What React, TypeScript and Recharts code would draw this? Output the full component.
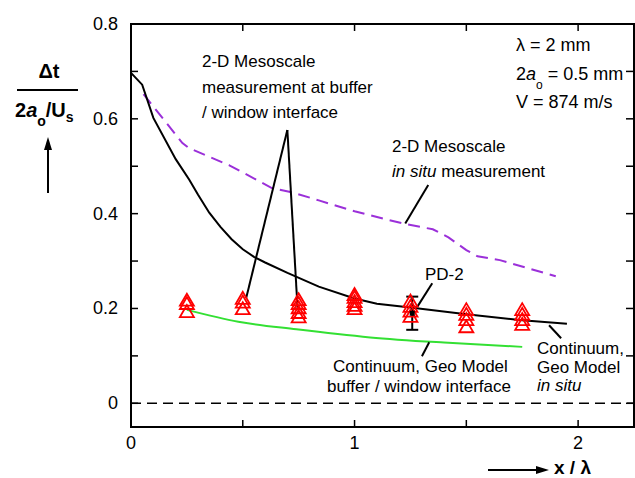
import React from 'react';
import { ComposedChart, Line, Scatter, XAxis, YAxis, ReferenceLine, ReferenceArea, ErrorBar } from 'recharts';

const FONT = 'Liberation Sans, Arial, Helvetica, sans-serif';

const xTicks = [0, 0.5, 1, 1.5, 2];
const xTickLabels = ['0', '', '1', '', '2'];
const yTicks = [0, 0.1, 0.2, 0.3, 0.4, 0.5, 0.6, 0.7, 0.8];
const yTickLabels = ['0', '', '0.2', '', '0.4', '', '0.6', '', '0.8'];
const xMax = 2.25;
const yMin = -0.05;
const yMax = 0.8;

// Continuum, Geo Model in situ (black)
const continuumInSitu = [
  [0, 0.697], [0.05, 0.672], [0.1, 0.602], [0.2, 0.515], [0.26, 0.472], [0.3, 0.44],
  [0.35, 0.402], [0.4, 0.372], [0.45, 0.346], [0.5, 0.325], [0.55, 0.309], [0.6, 0.297],
  [0.7, 0.275], [0.84, 0.246], [1.0, 0.221], [1.1, 0.21], [1.25, 0.202], [1.5, 0.188],
  [1.75, 0.175], [1.95, 0.168],
];
// 2-D Mesoscale in situ measurement (purple dashed)
const mesoInSitu = [
  [0.056, 0.652], [0.23, 0.549], [0.26, 0.538], [0.44, 0.502], [0.63, 0.454], [0.72, 0.445],
  [0.84, 0.428], [1.0, 0.405], [1.14, 0.388], [1.23, 0.378], [1.35, 0.367], [1.42, 0.35],
  [1.5, 0.323], [1.55, 0.31], [1.65, 0.302], [1.9, 0.268],
];
// Continuum, Geo Model buffer / window interface (green)
const continuumBuffer = [
  [0.25, 0.197], [0.48, 0.172], [0.74, 0.156], [1.07, 0.139], [1.4, 0.128], [1.75, 0.119],
];
// 2-D Mesoscale measurement at buffer / window interface (red triangles)
const mesoBufferX = [0.25, 0.5, 0.75, 1.0, 1.25, 1.5, 1.75];
const mesoBufferY = [
  [0.216, 0.209, 0.192],
  [0.22, 0.212, 0.198],
  [0.217, 0.209, 0.2, 0.19, 0.181],
  [0.228, 0.222, 0.213, 0.205, 0.198],
  [0.214, 0.203, 0.193, 0.182],
  [0.196, 0.186, 0.175, 0.16],
  [0.196, 0.186, 0.175, 0.165],
];
// PD-2 experiment
const pd2 = [{ x: 1.258, y: 0.19, err: 0.035 }];

// leader lines (data coordinates)
const leaders = [
  [[0.6994, 0.5763], [0.515, 0.2216]],
  [[0.6994, 0.5763], [0.7455, 0.1963]],
  [[1.3296, 0.4602], [1.2268, 0.3793]],
  [[1.3475, 0.2533], [1.2804, 0.2033]],
  [[1.334, 0.1288], [1.3014, 0.0992]],
  [[1.87, 0.1646], [1.924, 0.1372]],
];

const toObj = (arr: number[][]) => arr.map(([x, y]) => ({ x, y }));
const triData = mesoBufferX.flatMap((x, i) => mesoBufferY[i].map((y) => ({ x, y })));
const topTickData = xTicks.map((x) => ({ x, y: yMax }));
const rightTickData = yTicks.map((y) => ({ x: xMax, y }));

const Triangle = (props: any) => {
  const { cx, cy } = props;
  const w = 14, h = 12;
  const pts = `${cx},${cy - h * 0.6} ${cx - w / 2},${cy + h * 0.4} ${cx + w / 2},${cy + h * 0.4}`;
  return <polygon points={pts} fill="none" stroke="#FF0000" strokeWidth={1.8} />;
};

const PdMarker = (props: any) => {
  const { cx, cy } = props;
  return <rect x={cx - 2.5} y={cy - 2.5} width={5} height={5} fill="#000" />;
};

const TopTickShape = (props: any) => {
  const { cx, cy } = props;
  return <path d={`M${cx},${cy}L${cx},${cy + 7}`} stroke="#000" strokeWidth={1.5} fill="none" />;
};
const RightTickShape = (props: any) => {
  const { cx, cy } = props;
  return <path d={`M${cx - 1},${cy}L${cx - 8},${cy}`} stroke="#000" strokeWidth={1.5} fill="none" />;
};

const tickText = { fontSize: 18, fontFamily: FONT, fill: '#000' };

const BottomTick = (props: any) => {
  const { x, y, payload } = props;
  const i = xTicks.indexOf(payload.value);
  return (
    <g>
      <line x1={x} y1={y} x2={x} y2={y - 7} stroke="#000" strokeWidth={1.5} />
      <text x={x} y={y + 22} textAnchor="middle" {...tickText}>{xTickLabels[i]}</text>
    </g>
  );
};
const LeftTick = (props: any) => {
  const { x, y, payload } = props;
  const i = yTicks.findIndex((t) => Math.abs(t - payload.value) < 1e-9);
  return (
    <g>
      <line x1={x} y1={y} x2={x + 7} y2={y} stroke="#000" strokeWidth={1.5} />
      <text x={x - 13} y={y + 6} textAnchor="end" {...tickText}>{yTickLabels[i]}</text>
    </g>
  );
};

const axisLine = { stroke: '#000', strokeWidth: 2 };
const ann = { fontSize: 17, fontFamily: FONT, fill: '#000' };
const par = { fontSize: 18, fontFamily: FONT, fill: '#000' };

const Texts = () => (
  <g>
    <text x={49} y={78} textAnchor="middle" fontWeight="bold" fontSize={20} fontFamily={FONT}>Δt</text>
    <line x1={17} y1={90} x2={78} y2={90} stroke="#000" strokeWidth={2} />
    <text x={15} y={117} fontWeight="bold" fontSize={20} fontFamily={FONT}>
      2<tspan fontStyle="italic">a</tspan><tspan fontSize={14} dy={9}>o</tspan>
      <tspan dy={-9}>/U</tspan><tspan fontSize={14} dy={5}>s</tspan>
    </text>
    <line x1={48} y1={193} x2={48} y2={146} stroke="#000" strokeWidth={2} />
    <polygon points="48,137 44,150 52,150" fill="#000" />
    <line x1={488} y1={470} x2={540} y2={470} stroke="#000" strokeWidth={2} />
    <polygon points="549,470 536,466 536,474" fill="#000" />
    <text x={554} y={474} fontWeight="bold" fontSize={19} fontFamily={FONT}>x / λ</text>
    <text x={516} y={51} {...par}>λ = 2 mm</text>
    <text x={516} y={80} {...par}>2<tspan fontStyle="italic">a</tspan><tspan fontSize={12} dy={9}>o</tspan><tspan dy={-9}> = 0.5 mm</tspan></text>
    <text x={516} y={108} {...par}>V = 874 m/s</text>
    <text x={202} y={67} {...ann}>2-D Mesoscale</text>
    <text x={202} y={93} {...ann}>measurement at buffer</text>
    <text x={202} y={118} {...ann}>/ window interface</text>
    <text x={392} y={152} {...ann}>2-D Mesoscale</text>
    <text x={392} y={177} {...ann}><tspan fontStyle="italic">in situ</tspan> measurement</text>
    <text x={425} y={280} {...ann}>PD-2</text>
    <text x={333} y={372} {...ann}>Continuum, Geo Model</text>
    <text x={327} y={392} {...ann}>buffer / window interface</text>
    <text x={537} y={354} {...ann}>Continuum,</text>
    <text x={537} y={373} {...ann}>Geo Model</text>
    <text x={537} y={391} {...ann} fontStyle="italic">in situ</text>
  </g>
);

export default function App() {
  return (
    <div style={{ position: 'absolute', left: 0, top: 0, width: 635, height: 478, background: '#fff' }}>
      <ComposedChart width={635} height={478} margin={{ top: 24, right: 1, left: 0, bottom: 0 }}>
        <XAxis dataKey="x" type="number" domain={[0, xMax]} ticks={xTicks}
          height={51} tickSize={0} tickMargin={0} tick={<BottomTick />} axisLine={axisLine} interval={0} />
        <YAxis type="number" domain={[yMin, yMax]} ticks={yTicks}
          width={131} tickSize={0} tickMargin={0} tick={<LeftTick />} axisLine={axisLine} interval={0} />
        <ReferenceArea x1={0} x2={xMax} y1={yMin} y2={yMax} fill="none" fillOpacity={0}
          stroke="#000" strokeWidth={2} ifOverflow="visible" />
        <ReferenceLine y={0} stroke="#000" strokeWidth={1.5} strokeDasharray="10 6" />
        <Line data={toObj(mesoInSitu)} dataKey="y" type="linear" stroke="#9B30D9" strokeWidth={2}
          strokeDasharray="12 7" dot={false} isAnimationActive={false} />
        <Line data={toObj(continuumInSitu)} dataKey="y" type="linear" stroke="#000" strokeWidth={2}
          dot={false} isAnimationActive={false} />
        <Line data={toObj(continuumBuffer)} dataKey="y" type="monotone" stroke="#33E033" strokeWidth={2}
          dot={false} isAnimationActive={false} />
        {leaders.map((seg, i) => (
          <ReferenceLine key={i} segment={[{ x: seg[0][0], y: seg[0][1] }, { x: seg[1][0], y: seg[1][1] }]}
            stroke="#000" strokeWidth={2} ifOverflow="visible" />
        ))}
        <Scatter data={topTickData} dataKey="y" shape={<TopTickShape />} isAnimationActive={false} />
        <Scatter data={rightTickData} dataKey="y" shape={<RightTickShape />} isAnimationActive={false} />
        <Scatter data={triData} dataKey="y" shape={<Triangle />} isAnimationActive={false} />
        <Scatter data={pd2} dataKey="y" shape={<PdMarker />} isAnimationActive={false}>
          <ErrorBar dataKey="err" direction="y" width={6} stroke="#000" strokeWidth={2} />
        </Scatter>
        <Texts />
      </ComposedChart>
    </div>
  );
}
